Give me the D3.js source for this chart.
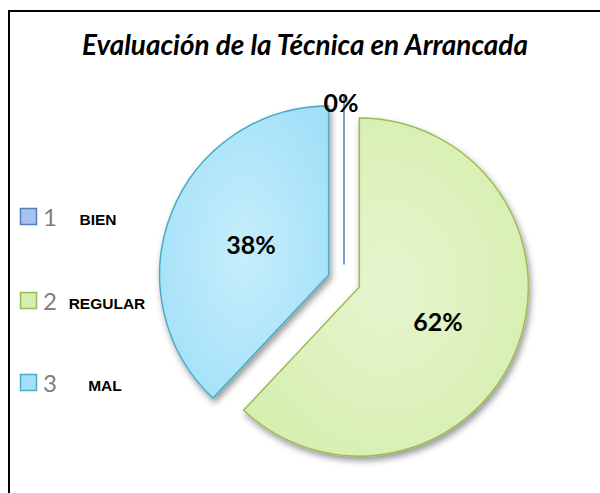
<!DOCTYPE html>
<html><head><meta charset="utf-8">
<script src="https://cdn.jsdelivr.net/npm/d3@7"></script>
<style>html,body{margin:0;padding:0;background:#fff;}svg{display:block;}</style>
</head><body>
<svg id="chart" width="600" height="493"></svg>
<script>
const title = "Evaluación de la Técnica en Arrancada";
const categories = ["1", "2", "3"];
const categoryNames = ["BIEN", "REGULAR", "MAL"];
const values = [0, 62, 38];
const percentLabels = ["0%", "62%", "38%"];

const svg = d3.select("#chart");
const W = 600, H = 493;

const defs = svg.append("defs");
const sh = defs.append("filter").attr("id","shadow").attr("x","-20%").attr("y","-20%").attr("width","140%").attr("height","140%");
sh.append("feDropShadow").attr("dx",2).attr("dy",4).attr("stdDeviation",3).attr("flood-color","#000").attr("flood-opacity",0.4);

const fills = [
  {id:"g0", inner:"#c6d8f8", outer:"#a7c1f0", stroke:"#4f81bd"},
  {id:"g1", inner:"#e6f5cf", outer:"#d6efae", stroke:"#9bbb59"},
  {id:"g2", inner:"#c6eefc", outer:"#a3e0f8", stroke:"#4bacc6"}
];
fills.forEach(f => {
  const g = defs.append("radialGradient").attr("id", f.id).attr("cx","50%").attr("cy","50%").attr("r","60%");
  g.append("stop").attr("offset","0%").attr("stop-color", f.inner);
  g.append("stop").attr("offset","100%").attr("stop-color", f.outer);
});

// frame
svg.append("path").attr("d", `M9,${H+5} L9,11 L${W+5},11`).attr("fill","none").attr("stroke","#000").attr("stroke-width",2);

// title
const t = svg.append("text").attr("x", 305).attr("y", 55).attr("text-anchor","middle")
  .attr("font-family","Lato, 'Open Sans', sans-serif").attr("font-weight","bold").attr("font-style","italic")
  .attr("font-size", 20).attr("fill","#000").text(title);
const tw = t.node().getComputedTextLength();
t.attr("font-size", 20 * 446 / tw);

// pie
const cx = 344, cy = 281, R = 169, explode = 16.5;
const pie = d3.pie().sort(null).value(d => d.v);
const arcs = pie(values.map((v,i)=>({v, i})));
const arc = d3.arc().innerRadius(0).outerRadius(R);
const g = svg.append("g").attr("transform", `translate(${cx},${cy})`);

arcs.forEach((a, i) => {
  const mid = (a.startAngle + a.endAngle) / 2;
  const dx = Math.sin(mid) * explode, dy = -Math.cos(mid) * explode;
  const sg = g.append("g").attr("transform", `translate(${dx},${dy})`);
  if (a.endAngle - a.startAngle < 1e-6) {
    sg.append("line").attr("x1",0).attr("y1",0)
      .attr("x2", Math.sin(a.startAngle)*R).attr("y2", -Math.cos(a.startAngle)*R)
      .attr("stroke", fills[i].stroke).attr("stroke-width", 1.5);
  } else {
    sg.append("path").attr("d", arc(a)).attr("fill", `url(#${fills[i].id})`)
      .attr("stroke", fills[i].stroke).attr("stroke-width", 1.5).attr("filter","url(#shadow)");
  }
});

// percent labels
const labelPos = [[341, 103], [438, 322], [251, 245]];
arcs.forEach((a, i) => {
  svg.append("text").attr("x", labelPos[i][0]).attr("y", labelPos[i][1]).attr("dy","0.35em")
    .attr("text-anchor","middle").attr("font-family","Lato, 'Open Sans', sans-serif")
    .attr("font-weight","bold").attr("font-size", 25).attr("fill","#000").text(percentLabels[i]);
});

// legend
const legY = [217, 301, 383];
const nameX = [98, 107, 105];
categories.forEach((c, i) => {
  svg.append("rect").attr("x", 20.5).attr("y", legY[i]-8.5).attr("width", 16).attr("height", 16)
    .attr("fill", fills[i].outer).attr("stroke", fills[i].stroke).attr("stroke-width", 1.5);
  svg.append("text").attr("x", 43).attr("y", legY[i]).attr("dy","0.36em")
    .attr("font-family","Lato, 'Open Sans', sans-serif").attr("font-size", 24).attr("fill","#7f7f7f").text(c);
  svg.append("text").attr("x", nameX[i]).attr("y", legY[i]+2).attr("dy","0.36em").attr("text-anchor","middle")
    .attr("font-family","'Liberation Sans', Arial, sans-serif").attr("font-weight","bold").attr("font-size", 15.5)
    .attr("fill","#000").text(categoryNames[i]);
});
</script>
</body></html>
